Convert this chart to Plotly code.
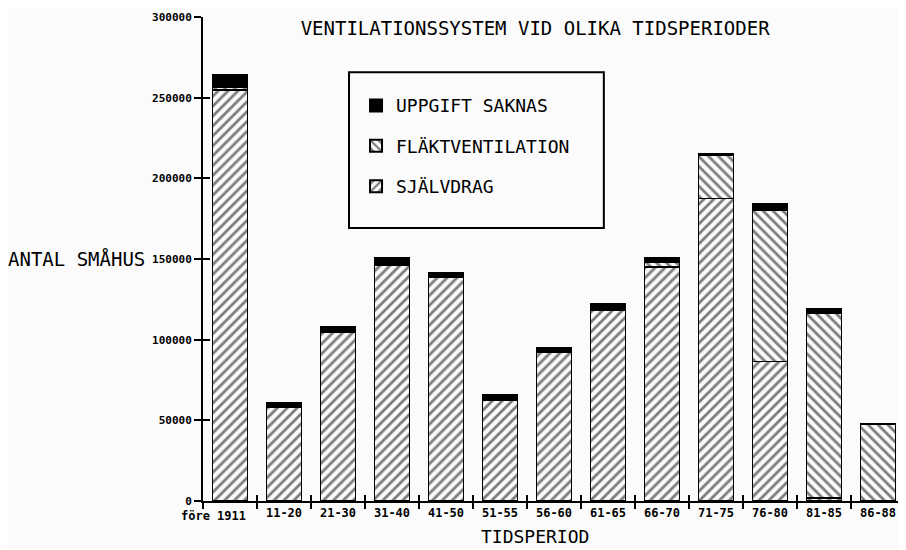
'''
    Stacked bar chart: ventilation systems in small houses by construction period.
'''
import plotly.graph_objects as go

periods = ["före 1911", "11-20", "21-30", "31-40", "41-50", "51-55", "56-60",
           "61-65", "66-70", "71-75", "76-80", "81-85", "86-88"]
sjalvdrag = [255000, 58000, 104500, 146500, 138500, 62500, 92000,
             118500, 145000, 187500, 86500, 2000, 0]
flakt = [1500, 0, 0, 0, 0, 0, 500, 0, 3000, 27000, 94000, 114500, 47500]
saknas = [7500, 3000, 3500, 4000, 3000, 3000, 2500, 3500, 2800, 500, 3500, 2500, 500]

y_ticks = [0, 50000, 100000, 150000, 200000, 250000, 300000]

FONT = "DejaVu Sans Mono"
INK = "#000000"
PAPER = "#fbfbfb"

fig = go.Figure()

line = dict(color=INK, width=1.8)
fig.add_trace(go.Bar(
    x=periods, y=sjalvdrag, name="SJÄLVDRAG", legendgroup="c", legendrank=3,
    marker=dict(color=PAPER, line=line,
                pattern=dict(shape="/", fgcolor=INK, bgcolor=PAPER,
                             size=7, solidity=0.4)),
))
fig.add_trace(go.Bar(
    x=periods, y=flakt, name="FLÄKTVENTILATION", legendgroup="b", legendrank=2,
    marker=dict(color=PAPER, line=line,
                pattern=dict(shape="\\", fgcolor=INK, bgcolor=PAPER,
                             size=7, solidity=0.4)),
))
fig.add_trace(go.Bar(
    x=periods, y=saknas, name="UPPGIFT SAKNAS", legendgroup="a", legendrank=1,
    marker=dict(color=INK, line=line),
))

# second pair of axes only to make ticks cross the axis lines
n = len(periods)
fig.add_trace(go.Scatter(x=[None], y=[None], xaxis="x2", yaxis="y2",
                         showlegend=False, hoverinfo="skip"))

# first label sits further left in the original, so it is drawn as a note
ticktext = [""] + periods[1:]

fig.update_layout(
    width=898, height=542,
    barmode="stack",
    bargap=0.35,
    paper_bgcolor=PAPER,
    plot_bgcolor=PAPER,
    margin=dict(l=195, r=1, t=9, b=49, autoexpand=False),
    font=dict(family=FONT, color=INK, size=13),
    title=dict(text="VENTILATIONSSYSTEM VID OLIKA TIDSPERIODER",
               x=0.587, xanchor="center", y=0.963, yanchor="middle",
               font=dict(family=FONT, size=19, color=INK)),
    legend=dict(
        x=0.218, y=0.855, xanchor="left", yanchor="top",
        traceorder="grouped",
        bgcolor="rgba(0,0,0,0)", borderwidth=0,
        font=dict(family=FONT, size=18, color=INK),
        itemsizing="constant", tracegroupgap=14,
    ),
    xaxis=dict(
        type="category", range=[-0.5, n - 0.5],
        showgrid=False, showline=True, linecolor=INK,
        linewidth=2, ticks="outside", tickson="boundaries", ticklen=6,
        tickwidth=2, tickcolor=INK, zeroline=False, tickangle=0,
        automargin=False, tickvals=periods, ticktext=ticktext,
        tickfont=dict(family=FONT, size=12, color=INK, weight="bold"),
    ),
    yaxis=dict(
        range=[0, 300000], tickvals=y_ticks, tickformat="d",
        showgrid=False, showline=True, linecolor=INK, linewidth=2,
        ticks="outside", ticklen=7, tickwidth=2, tickcolor=INK,
        zeroline=False, automargin=False,
        tickfont=dict(family=FONT, size=11, color=INK, weight="bold"),
    ),
    xaxis2=dict(overlaying="x", range=[-0.5, n - 0.5],
                tickvals=[i + 0.5 for i in range(n)], ticks="inside",
                ticklen=6, tickwidth=2, tickcolor=INK,
                showticklabels=False, showgrid=False, zeroline=False,
                showline=False),
    yaxis2=dict(overlaying="y", range=[0, 300000], tickvals=y_ticks,
                ticks="inside", ticklen=7, tickwidth=2, tickcolor=INK,
                showticklabels=False, showgrid=False, zeroline=False,
                showline=False),
    shapes=[dict(type="rect", xref="paper", yref="paper",
                 x0=0.208, x1=0.571, y0=0.564, y1=0.886,
                 line=dict(color=INK, width=2), fillcolor=PAPER, layer="below")],
    annotations=[
        dict(text="ANTAL SMÅHUS", xref="paper", yref="y",
             x=-0.08, y=150000, xanchor="right", yanchor="middle",
             showarrow=False, font=dict(family=FONT, size=19, color=INK)),
        dict(text="TIDSPERIOD", xref="paper", yref="paper",
             x=0.473, y=-0.074, xanchor="center", yanchor="middle",
             showarrow=False, font=dict(family=FONT, size=18, color=INK)),
        dict(text=periods[0], xref="x", yref="paper",
             x=periods[0], y=0, xshift=-17, yshift=-15,
             xanchor="center", yanchor="middle", showarrow=False,
             font=dict(family=FONT, size=12, color=INK, weight="bold")),
    ],
)

fig.write_html("out.html")
